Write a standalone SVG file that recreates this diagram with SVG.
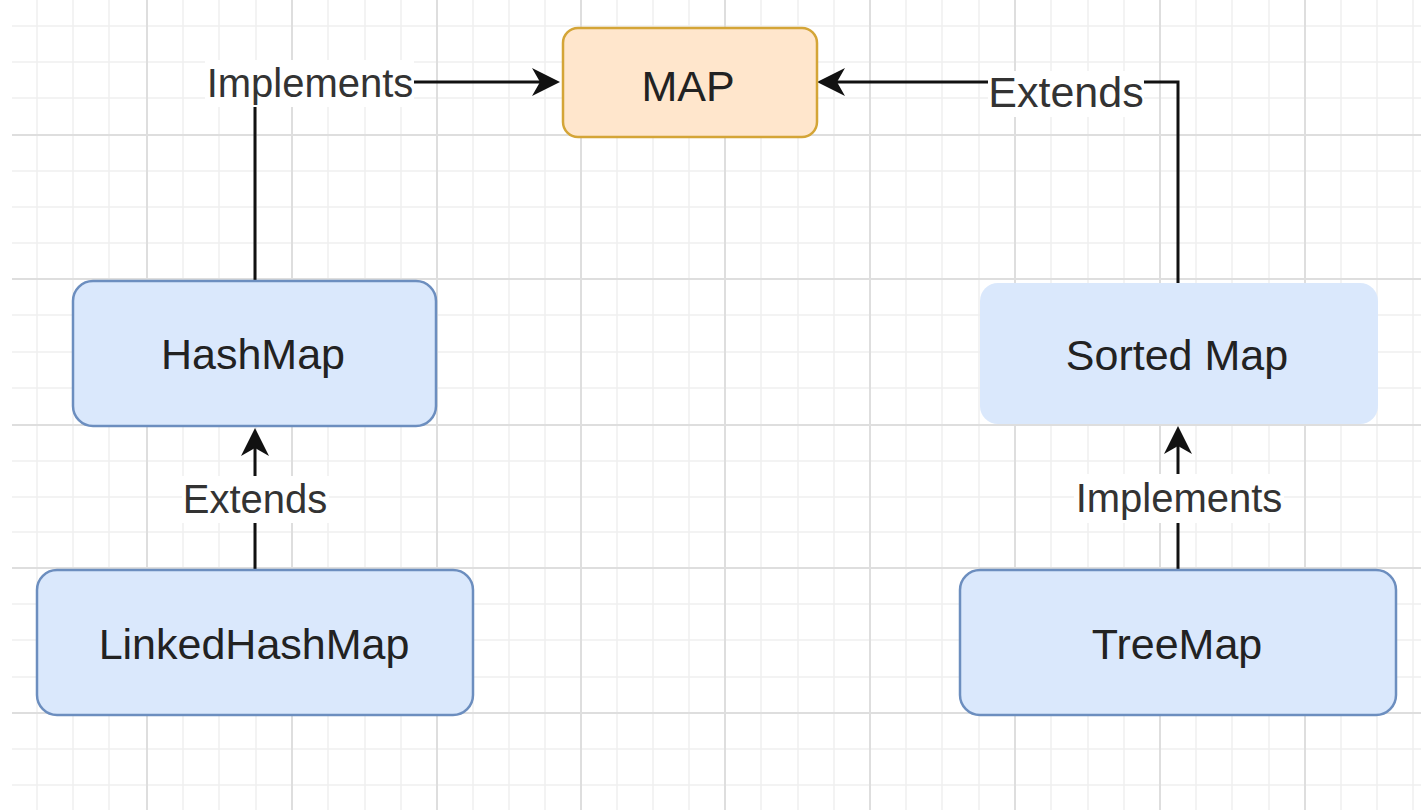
<svg xmlns="http://www.w3.org/2000/svg" width="1421" height="810" viewBox="0 0 1421 810">
<style>
.minor{stroke:#f0f0f0;stroke-width:1.5;fill:none}
.major{stroke:#dedede;stroke-width:2;fill:none}
.blue{fill:#dae8fc;stroke:#6c8ebf;stroke-width:2.5}
.orange{fill:#ffe6cc;stroke:#d4a537;stroke-width:2.5}
.nt{font-family:"Liberation Sans",Arial,sans-serif;font-size:43px;fill:#222222;text-anchor:middle}
.lt{font-family:"Liberation Sans",Arial,sans-serif;font-size:40px;fill:#333333;text-anchor:middle}
.edge{stroke:#111111;stroke-width:3;fill:none;marker-end:url(#arrow)}
.lbg{fill:#ffffff}
</style>
<defs>
<marker id="arrow" markerUnits="userSpaceOnUse" markerWidth="30" markerHeight="30" viewBox="0 0 30 30" refX="9" refY="15" orient="auto">
<path d="M29,15 L1,1 L9,15 L1,29 Z" fill="#111111"/>
</marker>
</defs>
<rect x="0" y="0" width="1421" height="810" fill="#ffffff"/>
<g id="grid">
<path class="minor" d="M37,0V810M73,0V810M109,0V810M183,0V810M219,0V810M256,0V810M328,0V810M365,0V810M401,0V810M473,0V810M509,0V810M545,0V810M617,0V810M653,0V810M689,0V810M761,0V810M798,0V810M834,0V810M906,0V810M942,0V810M979,0V810M1051,0V810M1088,0V810M1124,0V810M1196,0V810M1232,0V810M1269,0V810M1341,0V810M1377,0V810M1413,0V810"/>
<path class="minor" d="M12,26H1421M12,62H1421M12,98H1421M12,171H1421M12,207H1421M12,243H1421M12,315H1421M12,352H1421M12,388H1421M12,461H1421M12,497H1421M12,532H1421M12,604H1421M12,640H1421M12,677H1421M12,749H1421M12,785H1421"/>
<path class="major" d="M147,0V810M292,0V810M437,0V810M581,0V810M725,0V810M870,0V810M1015,0V810M1160,0V810M1305,0V810"/>
<path class="major" d="M12,135H1421M12,279H1421M12,425H1421M12,568H1421M12,713H1421"/>
</g>
<g id="connectors">
<path class="edge" d="M255,281V82H540"/>
<path class="edge" d="M1178,283V82H837"/>
<path class="edge" d="M255,570V448"/>
<path class="edge" d="M1178,570V446"/>
<rect class="lbg" x="205" y="60" width="209" height="47"/>
<text class="lt" x="310" y="97">Implements</text>
<rect class="lbg" x="988" y="71" width="156" height="46"/>
<text class="lt" x="1066" y="107" style="font-size:43px">Extends</text>
<rect class="lbg" x="182" y="476" width="147" height="47"/>
<text class="lt" x="255" y="513">Extends</text>
<rect class="lbg" x="1074" y="474" width="210" height="49"/>
<text class="lt" x="1179" y="512">Implements</text>
</g>
<g id="node-map">
<rect class="orange" x="563" y="28" width="254" height="109" rx="15"/>
<text class="nt" x="688" y="101">MAP</text>
</g>
<g id="node-hashmap">
<rect class="blue" x="73" y="281" width="363" height="145" rx="20"/>
<text class="nt" x="253" y="369">HashMap</text>
</g>
<g id="node-sortedmap">
<rect x="980" y="283" width="398" height="141" rx="18" fill="#dae8fc"/>
<text class="nt" x="1177" y="370">Sorted Map</text>
</g>
<g id="node-linkedhashmap">
<rect class="blue" x="37" y="570" width="436" height="145" rx="20"/>
<text class="nt" x="254" y="659">LinkedHashMap</text>
</g>
<g id="node-treemap">
<rect class="blue" x="960" y="570" width="436" height="145" rx="20"/>
<text class="nt" x="1177" y="659">TreeMap</text>
</g>
</svg>
